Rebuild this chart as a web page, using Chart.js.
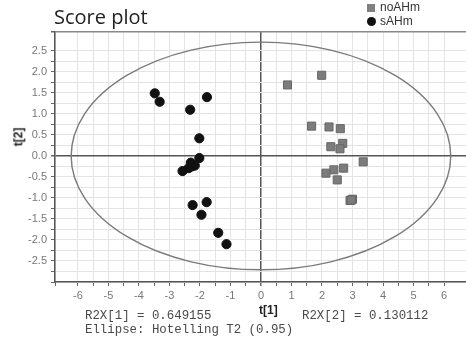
<!DOCTYPE html>
<html>
<head>
<meta charset="utf-8">
<script src="https://cdn.jsdelivr.net/npm/chart.js@4/dist/chart.umd.min.js"></script>
<style>
  body { margin: 0; background: #fff; }
  #wrap { position: relative; width: 466px; height: 344px; overflow: hidden; }
  #wrap canvas { position: absolute; left: 0; top: 0; }
  .txt { position: absolute; white-space: nowrap; color: #222; }
  .title { left: 54px; top: 3px; font: 20px "Open Sans", sans-serif; color: #222; }
  .leg { font: 12px "Liberation Sans", Arial, sans-serif; color: #333; }
  .sw { position: absolute; }
  .mono { font: 12.4px "Liberation Mono", "Courier New", monospace; color: #4a4a4a; }
  .axt { font: bold 12px "Liberation Sans", Arial, sans-serif; color: #222; }
</style>
</head>
<body>
<div id="wrap">
  <canvas id="chart-area" width="466" height="344"></canvas>
  <div class="txt title">Score plot</div>
  <div class="sw" style="left:367px;top:4px;width:8px;height:8px;background:#808080;"></div>
  <div class="txt leg" style="left:380px;top:0px;">noAHm</div>
  <div class="sw" style="left:367px;top:17px;width:9px;height:9px;border-radius:50%;background:#111;"></div>
  <div class="txt leg" style="left:380px;top:14px;">sAHm</div>
  <div class="txt axt" style="left:259px;top:303px;">t[1]</div>
  <div class="txt axt" style="left:9px;top:130px;transform:rotate(-90deg);transform-origin:center;">t[2]</div>
  <div class="txt mono" style="left:85px;top:309px;">R2X[1] = 0.649155</div>
  <div class="txt mono" style="left:302px;top:309px;">R2X[2] = 0.130112</div>
  <div class="txt mono" style="left:85px;top:323px;">Ellipse: Hotelling T2 (0.95)</div>
</div>
<script>
// score values
var noAHm_t1 = [0.87, 1.99, 1.66, 2.23, 2.60, 2.29, 2.68, 2.59, 3.35, 2.71, 2.39, 2.13, 2.50, 2.92, 3.00, 2.96];
var noAHm_t2 = [1.69, 1.92, 0.71, 0.69, 0.65, 0.22, 0.30, 0.17, -0.14, -0.29, -0.33, -0.41, -0.57, -1.06, -1.03, -1.05];
var sAHm_t1 = [-3.48, -3.32, -2.32, -1.77, -2.02, -2.02, -2.57, -2.30, -2.17, -2.27, -2.37, -2.24, -1.78, -1.95, -1.40, -1.13];
var sAHm_t2 = [1.49, 1.29, 1.10, 1.40, 0.42, -0.05, -0.36, -0.16, -0.23, -0.25, -0.29, -1.17, -1.10, -1.40, -1.83, -2.10];

// Hotelling T2 (0.95) ellipse semi axes
var ellipseA = 6.22;
var ellipseB = 2.71;

var xMin = -6.75, xMax = 6.72;
var yMin = -3.0, yMax = 2.95;

function toPoints(xs, ys) {
    var pts = [];
    for (var i = 0; i < xs.length; i++) pts.push({x: xs[i], y: ys[i]});
    return pts;
}

var ellipsePlugin = {
    id: 'hotelling',
    beforeDatasetsDraw: function(chart) {
        var ctx = chart.ctx, xs = chart.scales.x, ys = chart.scales.y, a = chart.chartArea;
        var cx = xs.getPixelForValue(0), cy = ys.getPixelForValue(0);
        var rx = xs.getPixelForValue(ellipseA) - cx;
        var ry = cy - ys.getPixelForValue(ellipseB);
        ctx.save();
        ctx.beginPath();
        ctx.rect(a.left, a.top, a.right - a.left, a.bottom - a.top);
        ctx.clip();
        ctx.beginPath();
        ctx.ellipse(cx, cy, rx, ry, 0, 0, Math.PI * 2);
        ctx.strokeStyle = '#7a7a7a';
        ctx.lineWidth = 1.4;
        ctx.stroke();
        ctx.restore();
    }
};

function isStep(v, s) {
    var r = v / s;
    return Math.abs(r - Math.round(r)) < 1e-6;
}

var config = {
    type: 'scatter',
    data: {
        datasets: [{
            label: 'noAHm',
            data: toPoints(noAHm_t1, noAHm_t2),
            pointStyle: 'rect',
            pointRadius: 5.7,
            pointHoverRadius: 5.7,
            backgroundColor: '#7c7c7c',
            borderColor: '#666',
            borderWidth: 1
        }, {
            label: 'sAHm',
            data: toPoints(sAHm_t1, sAHm_t2),
            pointStyle: 'circle',
            pointRadius: 4.6,
            pointHoverRadius: 4.6,
            backgroundColor: '#111',
            borderColor: '#111',
            borderWidth: 1
        }]
    },
    options: {
        responsive: false,
        animation: false,
        layout: { autoPadding: false, padding: { top: 32, left: 0, right: 0, bottom: 0 } },
        plugins: {
            legend: { display: false },
            title: { display: false },
            tooltip: { enabled: false }
        },
        scales: {
            x: {
                type: 'linear',
                min: xMin,
                max: xMax,
                afterFit: function(s) { s.height = 62; s.paddingLeft = 0; s.paddingRight = 0; },
                border: { color: '#555', width: 1.5 },
                grid: {
                    color: function(c) { return Math.abs(c.tick.value) < 1e-6 ? '#555' : '#e4e4e4'; },
                    lineWidth: function(c) { return Math.abs(c.tick.value) < 1e-6 ? 1.5 : 1; },
                    tickLength: 4,
                    tickColor: '#666'
                },
                ticks: {
                    stepSize: 0.5,
                    autoSkip: false,
                    maxRotation: 0,
                    padding: 3,
                    color: '#777',
                    font: { family: 'Liberation Sans', size: 11 },
                    callback: function(v) { return isStep(v, 1) ? String(Math.round(v)) : ''; }
                }
            },
            y: {
                type: 'linear',
                min: yMin,
                max: yMax,
                afterFit: function(s) { s.width = 55; s.paddingTop = 0; s.paddingBottom = 0; },
                border: { color: '#555', width: 1.5 },
                grid: {
                    color: function(c) {
                        if (Math.abs(c.tick.value) < 1e-6) return '#555';
                        if (Math.abs(c.tick.value - yMax) < 1e-6) return '#8a8a8a';
                        return '#e4e4e4';
                    },
                    lineWidth: function(c) {
                        if (Math.abs(c.tick.value) < 1e-6) return 1.5;
                        if (Math.abs(c.tick.value - yMax) < 1e-6) return 1.5;
                        return 1;
                    },
                    tickLength: 4,
                    tickColor: '#666'
                },
                ticks: {
                    stepSize: 0.25,
                    autoSkip: false,
                    padding: 4,
                    color: '#777',
                    font: { family: 'Liberation Sans', size: 11 },
                    callback: function(v) {
                        if (!isStep(v, 0.5) || Math.abs(v) > 2.51) return '';
                        return v.toFixed(1);
                    }
                }
            }
        }
    },
    plugins: [ellipsePlugin]
};

var ctx = document.getElementById('chart-area').getContext('2d');
window.scorePlot = new Chart(ctx, config);
</script>
</body>
</html>
